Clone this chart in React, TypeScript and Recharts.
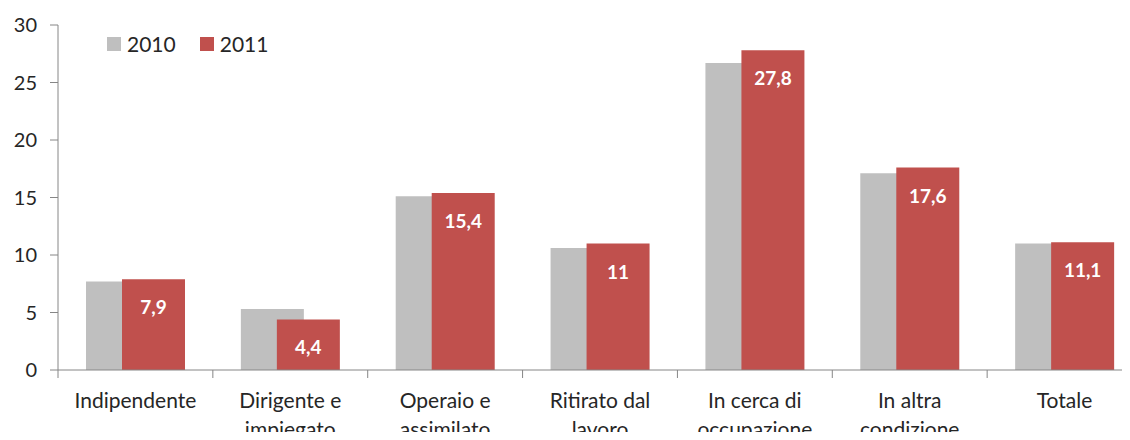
import React from 'react';
import { BarChart, Bar, XAxis, YAxis, Legend, LabelList } from 'recharts';

const categories = [
  'Indipendente',
  'Dirigente e\nimpiegato',
  'Operaio e\nassimilato',
  'Ritirato dal\nlavoro',
  'In cerca di\noccupazione',
  'In altra\ncondizione',
  'Totale',
];
const values2010 = [7.7, 5.3, 15.1, 10.6, 26.7, 17.1, 11.0];
const values2011 = [7.9, 4.4, 15.4, 11, 27.8, 17.6, 11.1];
const yTicks = [0, 5, 10, 15, 20, 25, 30];

const data = categories.map((name, i) => ({ name, y2010: values2010[i], y2011: values2011[i] }));

const FONT = 'Lato, "Open Sans", sans-serif';
const AXIS = '#868686';
const TEXT = '#262626';

const CategoryTick = (props: any) => {
  const { x, payload } = props;
  const half = payload.offset || 0;
  const lines = String(payload.value).split('\n');
  const base = 370;
  return (
    <g>
      <line x1={x - half} x2={x - half} y1={base} y2={base + 8} stroke={AXIS} strokeWidth={1} />
      <text x={x} y={base + 38} textAnchor="middle" fill={TEXT} fontFamily={FONT} fontSize={21}>
        {lines.map((l, i) => (
          <tspan key={i} x={x} dy={i === 0 ? 0 : 29}>{l}</tspan>
        ))}
      </text>
    </g>
  );
};

const ValueLabel = (props: any) => {
  const { x, y, width, value } = props;
  return (
    <text x={x + width / 2} y={y + 35} textAnchor="middle" fill="#fff" fontFamily={FONT}
      fontWeight="bold" fontSize={19}>
      {String(value).replace('.', ',')}
    </text>
  );
};

const LegendBox = (props: any) => (
  <div style={{ display: 'flex', fontFamily: FONT, fontSize: 21, color: TEXT, lineHeight: '24px' }}>
    {props.payload.map((p: any) => (
      <div key={p.value} style={{ display: 'flex', alignItems: 'center', marginRight: 24 }}>
        <span style={{ width: 14, height: 14, background: p.color, marginRight: 6, display: 'inline-block' }} />
        {p.value}
      </div>
    ))}
  </div>
);

export default function App() {
  return (
    <div style={{ margin: -8, width: 1130, height: 440, overflow: 'hidden', background: '#fff' }}>
      <BarChart width={1142} height={440} data={data} barSize={63} barGap={-27}
        margin={{ top: 25, right: 0, bottom: 0, left: 0 }}>
        <YAxis domain={[0, 30]} ticks={yTicks} width={58} tickSize={8} tickMargin={13}
          axisLine={{ stroke: AXIS }} tickLine={{ stroke: AXIS }}
          tick={{ fill: TEXT, fontFamily: FONT, fontSize: 20 }} />
        <XAxis dataKey="name" height={70} interval={0} tickLine={false}
          axisLine={{ stroke: AXIS }} tick={<CategoryTick />} />
        <Legend layout="horizontal" verticalAlign="middle" align="center" content={<LegendBox />}
          wrapperStyle={{ top: 32, left: 107, width: 'auto' }} />
        <Bar dataKey="y2010" name="2010" fill="#BFBFBF" isAnimationActive={false} />
        <Bar dataKey="y2011" name="2011" fill="#C0504D" isAnimationActive={false}>
          <LabelList dataKey="y2011" content={<ValueLabel />} />
        </Bar>
      </BarChart>
    </div>
  );
}
